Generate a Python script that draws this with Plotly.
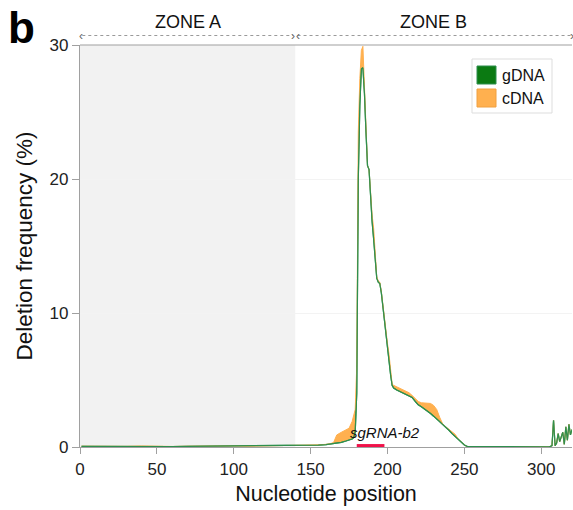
import plotly.graph_objects as go

# Nucleotide positions (shared by both series)
positions = [1, 10, 20, 30, 40, 50, 60, 70, 80, 90, 100, 110, 120, 130, 140, 145, 150, 155, 160, 163, 165,
             167, 170, 173, 175, 177, 178, 179, 180, 181, 182, 183, 184, 185, 186, 187, 188, 189, 190,
             191, 192, 193, 194, 195, 196, 197, 198, 199, 200, 201, 202, 203, 204, 206, 208, 210, 212,
             214, 216, 218, 220, 222, 224, 226, 228, 230, 232, 234, 236, 238, 240, 242, 244, 246, 248,
             250, 252, 260, 270, 280, 290, 300, 305, 306, 307, 308, 309, 310, 311, 312, 313, 314, 315,
             316, 317, 318, 319, 320]

gdna = [0.05, 0.04, 0.05, 0.03, 0.05, 0.04, 0.03, 0.05, 0.06, 0.05, 0.06, 0.05, 0.06, 0.07, 0.08, 0.1, 0.12, 0.14, 0.18, 0.22, 0.25,
        0.3, 0.35, 0.45, 0.5, 0.6, 0.7, 1.1, 4.0, 20.0, 25.5, 28.2, 28.3, 26.4, 23.5, 21.0, 20.7, 18.6, 16.8,
        15.5, 14.0, 12.6, 12.3, 12.2, 11.5, 10.4, 9.4, 8.2, 7.2, 6.3, 5.4, 4.6, 4.4, 4.25, 4.15, 4.05, 3.95,
        3.85, 3.7, 3.4, 3.15, 3.0, 2.85, 2.7, 2.5, 2.3, 2.1, 1.85, 1.65, 1.45, 1.25, 1.0, 0.8, 0.55, 0.35,
        0.15, 0.03, 0.02, 0.03, 0.02, 0.03, 0.02, 0.02, 0.05, 0.1, 2.0, 0.1, 0.3, 1.0, 0.4, 0.8, 1.1, 0.2,
        1.5, 0.5, 1.7, 0.9, 1.3]

cdna = [0.06, 0.05, 0.06, 0.05, 0.08, 0.05, 0.04, 0.06, 0.08, 0.07, 0.08, 0.06, 0.07, 0.08, 0.1, 0.12, 0.14, 0.16, 0.2, 0.25, 0.35,
        0.9, 1.1, 1.3, 1.4, 1.9, 2.3, 2.8, 6.0, 23.5, 27.5, 29.6, 29.9, 26.4, 23.5, 21.0, 20.7, 18.8, 17.3,
        16.3, 14.2, 12.7, 12.4, 12.3, 11.6, 10.5, 9.6, 8.5, 7.7, 6.9, 5.6, 4.7, 4.6, 4.5, 4.4, 4.3, 4.2,
        4.05, 3.85, 3.6, 3.4, 3.3, 3.3, 3.3, 3.25, 3.1, 2.8, 2.2, 1.7, 1.5, 1.3, 1.1, 0.95, 0.6, 0.35,
        0.15, 0.03, 0.02, 0.03, 0.02, 0.03, 0.02, 0.02, 0.05, 0.1, 2.0, 0.1, 0.3, 1.0, 0.4, 0.8, 1.1, 0.2,
        1.5, 0.5, 1.7, 0.9, 1.3]

x_ticks = [0, 50, 100, 150, 200, 250, 300]
y_ticks = [0, 10, 20, 30]
zone_a = [0, 140]
zone_b = [140, 320]
sgrna = [180, 198]

GREEN_LINE = "#2f8f4e"
GREEN = "#0b7a12"
ORANGE = "#ffb04f"
FONT = "Liberation Sans, Arial, sans-serif"

fig = go.Figure()

fig.add_trace(go.Scatter(x=positions, y=gdna, mode="lines", line=dict(color=GREEN_LINE, width=1.2),
                         showlegend=False, hoverinfo="skip"))
fig.add_trace(go.Scatter(x=positions, y=cdna, mode="lines", fill="tonexty", fillcolor=ORANGE,
                         line=dict(color=ORANGE, width=1), name="cDNA", showlegend=False))
fig.add_trace(go.Scatter(x=positions, y=gdna, mode="lines", line=dict(color=GREEN_LINE, width=1.2),
                         name="gDNA", showlegend=False))

shapes = []
# Zone A shading
shapes.append(dict(type="rect", xref="x", yref="y", x0=zone_a[0], x1=zone_a[1], y0=0, y1=30,
                   fillcolor="#f2f2f2", line=dict(width=0), layer="below"))
# top border
shapes.append(dict(type="line", xref="paper", yref="paper", x0=0, x1=1, y0=1, y1=1,
                   line=dict(color="#a0a0a0", width=1.2)))
# zone arrows (dotted)
yz = 1.0236
shapes.append(dict(type="line", xref="x", yref="paper", x0=zone_a[0] + 1.5, x1=zone_a[1] - 1.5, y0=yz, y1=yz,
                   line=dict(color="#9a9a9a", width=1, dash="dot")))
shapes.append(dict(type="line", xref="x", yref="paper", x0=zone_b[0] + 1.5, x1=zone_b[1], y0=yz, y1=yz,
                   line=dict(color="#9a9a9a", width=1, dash="dot")))
# sgRNA bar
shapes.append(dict(type="rect", xref="x", yref="y", x0=sgrna[0], x1=sgrna[1], y0=-0.22, y1=0.22,
                   fillcolor="#f0124a", line=dict(width=0)))


def px_to_paper_x(px):
    return (px - 80) / 492.0


def px_to_paper_y(py):
    return (447 - py) / 402.0


# legend box (manual)
shapes.append(dict(type="rect", xref="paper", yref="paper",
                   x0=px_to_paper_x(472), x1=px_to_paper_x(552), y0=px_to_paper_y(113), y1=px_to_paper_y(59),
                   fillcolor="white", line=dict(color="#dddddd", width=1)))
shapes.append(dict(type="rect", xref="paper", yref="paper",
                   x0=px_to_paper_x(477), x1=px_to_paper_x(496), y0=px_to_paper_y(84), y1=px_to_paper_y(66),
                   fillcolor=GREEN, line=dict(color="#2f8f4e", width=1)))
shapes.append(dict(type="rect", xref="paper", yref="paper",
                   x0=px_to_paper_x(477), x1=px_to_paper_x(496), y0=px_to_paper_y(107), y1=px_to_paper_y(89),
                   fillcolor=ORANGE, line=dict(color="#f0a040", width=1)))

annotations = []
annotations.append(dict(text="gDNA", xref="paper", yref="paper", x=px_to_paper_x(500), y=px_to_paper_y(75),
                        xanchor="left", yanchor="middle", showarrow=False, font=dict(size=16, color="#111", family=FONT)))
annotations.append(dict(text="cDNA", xref="paper", yref="paper", x=px_to_paper_x(500), y=px_to_paper_y(98),
                        xanchor="left", yanchor="middle", showarrow=False, font=dict(size=16, color="#111", family=FONT)))
# zone labels
annotations.append(dict(text="ZONE A", xref="x", yref="paper", x=(zone_a[0] + zone_a[1]) / 2, y=px_to_paper_y(22),
                        xanchor="center", yanchor="middle", showarrow=False, font=dict(size=18, color="#111", family=FONT)))
annotations.append(dict(text="ZONE B", xref="x", yref="paper", x=(zone_b[0] + zone_b[1]) / 2, y=px_to_paper_y(22),
                        xanchor="center", yanchor="middle", showarrow=False, font=dict(size=18, color="#111", family=FONT)))
# arrow heads
for xv, ch in [(zone_a[0] + 0.8, "‹"), (zone_a[1] - 1.2, "›"), (zone_b[0] + 1.5, "‹"), (zone_b[1] - 0.3, "›")]:
    annotations.append(dict(text=ch, xref="x", yref="paper", x=xv, y=yz, xanchor="center", yanchor="middle",
                            showarrow=False, font=dict(size=12, color="#666", family=FONT)))
# sgRNA label
annotations.append(dict(text="<i>sgRNA-b2</i>", xref="x", yref="y", x=198.5, y=0.3,
                        xanchor="center", yanchor="bottom", showarrow=False, font=dict(size=15, color="#111", family=FONT)))
# panel letter
annotations.append(dict(text="<b>b</b>", xref="paper", yref="paper", x=px_to_paper_x(21.5), y=px_to_paper_y(28),
                        xanchor="center", yanchor="middle", showarrow=False, font=dict(size=44, color="#000", family=FONT)))

fig.update_layout(
    width=573, height=510,
    margin=dict(l=80, r=1, t=45, b=63),
    paper_bgcolor="white", plot_bgcolor="white",
    font=dict(family=FONT, color="#222"),
    shapes=shapes, annotations=annotations,
    showlegend=False,
    xaxis=dict(range=[0, 320], tickvals=x_ticks, ticks="outside", ticklen=6, tickcolor="#a0a0a0",
               showgrid=False, zeroline=False, showline=True, linecolor="#a0a0a0", linewidth=1.2,
               tickfont=dict(size=17, color="#222"),
               title=dict(text="Nucleotide position", font=dict(size=21.5, color="#111"), standoff=8)),
    yaxis=dict(range=[0, 30], tickvals=y_ticks, ticks="outside", ticklen=7, tickcolor="#a0a0a0",
               showgrid=True, gridcolor="#f3f3f3", zeroline=False, showline=True, linecolor="#a0a0a0", linewidth=1.2,
               tickfont=dict(size=17, color="#222"),
               title=dict(text="Deletion frequency (%)", font=dict(size=22.5, color="#111"), standoff=10)),
)

fig.write_html("out.html")
